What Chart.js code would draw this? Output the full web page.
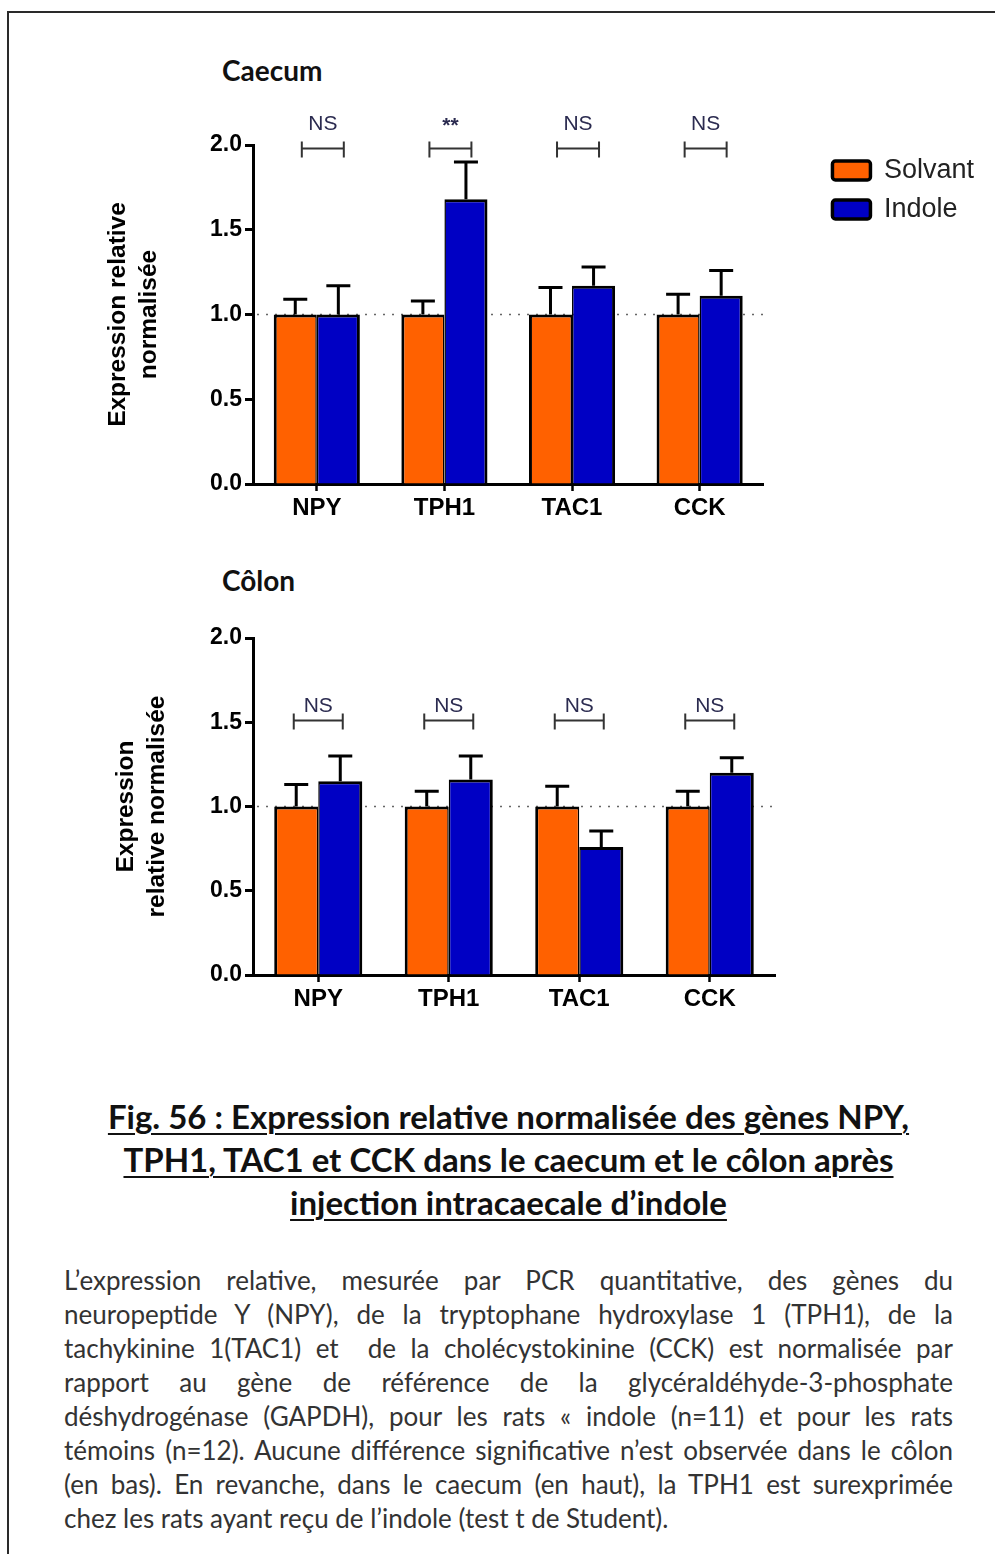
<!DOCTYPE html>
<html>
<head>
<meta charset="utf-8">
<script src="https://cdn.jsdelivr.net/npm/chart.js@4.4.1/dist/chart.umd.min.js"></script>
<style>
  body { margin: 0; width: 995px; height: 1554px; position: relative; overflow: hidden; background: #fff; }
  .frame { position: absolute; left: 7px; top: 11px; width: 1100px; height: 1700px; border: 2px solid #2a2a2a; }
  .panel { position: absolute; left: 222px; font-family: Lato, sans-serif; font-weight: 700; font-size: 28px; line-height: 30px; color: #111; }
  canvas { position: absolute; left: 0; }
  .fig { position: absolute; left: 0; width: 1017px; top: 1095px; text-align: center; font-family: Lato, sans-serif; font-weight: 700; font-size: 33px; line-height: 43px; color: #111; }
  .fig span { text-decoration: underline; text-decoration-thickness: 2px; text-underline-offset: 4px; }
  .body { position: absolute; left: 64px; width: 889px; top: 1263px; font-family: Lato, sans-serif; font-size: 26px; line-height: 34px; color: #333; }
  .body div { text-align: justify; text-align-last: justify; }
  .body div.last { text-align-last: left; }
</style>
</head>
<body>
<div class="frame"></div>
<div class="panel" style="top:55px">Caecum</div>
<div class="panel" style="top:565px">Côlon</div>
<canvas id="caecum" width="995" height="500" style="top:30px"></canvas>
<canvas id="colon" width="995" height="470" style="top:560px"></canvas>

<div class="fig">
  <span>Fig. 56 : Expression relative normalisée des gènes NPY,</span><br>
  <span>TPH1, TAC1 et CCK dans le caecum et le côlon après</span><br>
  <span>injection intracaecale d’indole</span>
</div>

<div class="body">
  <div>L’expression relative, mesurée par PCR quantitative, des gènes du</div>
  <div>neuropeptide Y (NPY), de la tryptophane hydroxylase 1 (TPH1), de la</div>
  <div>tachykinine 1(TAC1) et&nbsp; de la cholécystokinine (CCK) est normalisée par</div>
  <div>rapport au gène de référence de la glycéraldéhyde-3-phosphate</div>
  <div>déshydrogénase (GAPDH), pour les rats « indole (n=11) et pour les rats</div>
  <div>témoins (n=12). Aucune différence significative n’est observée dans le côlon</div>
  <div>(en bas). En revanche, dans le caecum (en haut), la TPH1 est surexprimée</div>
  <div class="last">chez les rats ayant reçu de l’indole (test t de Student).</div>
</div>

<script>
// données
const genes = ['NPY', 'TPH1', 'TAC1', 'CCK'];
const seriesNames = ['Solvant', 'Indole'];

const caecumSolvant = [1.00, 1.00, 1.00, 1.00];
const caecumSolvantErr = [1.09, 1.08, 1.16, 1.12];
const caecumIndole = [1.00, 1.68, 1.17, 1.11];
const caecumIndoleErr = [1.17, 1.90, 1.28, 1.26];
const caecumSig = ['NS', '**', 'NS', 'NS'];
const caecumSigLevel = 1.98;

const colonSolvant = [1.00, 1.00, 1.00, 1.00];
const colonSolvantErr = [1.13, 1.09, 1.12, 1.09];
const colonIndole = [1.15, 1.16, 0.76, 1.20];
const colonIndoleErr = [1.30, 1.30, 0.855, 1.29];
const colonSig = ['NS', 'NS', 'NS', 'NS'];
const colonSigLevel = 1.51;

const yMin = 0, yMax = 2.0, yStep = 0.5;
const refLine = 1.0;

const ORANGE = '#FF6100';
const BLUE = '#0000C4';
const FONT = "'Liberation Sans', Arial, sans-serif";

// barres d'erreur, ligne pointillée et crochets de significativité
const errorBars = {
    id: 'errorBars',
    beforeDatasetsDraw(chart) {
        const { ctx, chartArea, scales: { y } } = chart;
        const py = y.getPixelForValue(refLine);
        ctx.save();
        ctx.setLineDash([2, 7]);
        ctx.strokeStyle = '#666';
        ctx.lineWidth = 1.5;
        ctx.beginPath();
        ctx.moveTo(chartArea.left + 4, py);
        ctx.lineTo(chartArea.right, py);
        ctx.stroke();
        ctx.restore();
    },
    afterDatasetsDraw(chart, args, opts) {
        const { ctx, scales: { x, y } } = chart;
        ctx.save();
        ctx.strokeStyle = '#000';
        ctx.lineWidth = 3;
        chart.data.datasets.forEach((ds, i) => {
            chart.getDatasetMeta(i).data.forEach((bar, j) => {
                const top = y.getPixelForValue(ds.errorTop[j]);
                ctx.beginPath();
                ctx.moveTo(bar.x, bar.y);
                ctx.lineTo(bar.x, top);
                ctx.moveTo(bar.x - 12, top);
                ctx.lineTo(bar.x + 12, top);
                ctx.stroke();
            });
        });

        ctx.strokeStyle = '#333';
        ctx.lineWidth = 2;
        ctx.textAlign = 'center';
        ctx.textBaseline = 'middle';
        opts.labels.forEach((txt, j) => {
            const cx = x.getPixelForValue(j) + opts.shift;
            const by = y.getPixelForValue(opts.level);
            ctx.beginPath();
            ctx.moveTo(cx - opts.half, by);
            ctx.lineTo(cx + opts.half, by);
            ctx.moveTo(cx - opts.half, by - 7);
            ctx.lineTo(cx - opts.half, by + 9);
            ctx.moveTo(cx + opts.half, by - 7);
            ctx.lineTo(cx + opts.half, by + 9);
            ctx.stroke();
            ctx.fillStyle = '#2b2b50';
            ctx.font = (txt === '**' ? 'bold ' : '') + '21px ' + FONT;
            ctx.fillText(txt, cx, by - opts.textGap + (txt === '**' ? 2 : 0));
        });
        ctx.restore();
    }
};

function makeChart(id, solvant, solvantErr, indole, indoleErr, sig, cfg) {
    const ctx = document.getElementById(id).getContext('2d');
    const scales = {
        x: {
            type: 'category',
            grid: { offset: false, drawOnChartArea: false, tickLength: 7, tickWidth: 2.5, tickColor: '#000' },
            border: { color: '#000', width: 3 },
            ticks: { color: '#000', padding: 3, font: { family: FONT, size: 24, weight: 'bold' } },
            afterFit(s) { s.height = 40; }
        },
        y: {
            min: yMin,
            max: yMax,
            grid: { drawOnChartArea: false, tickLength: 8, tickWidth: 3, tickColor: '#000' },
            border: { color: '#000', width: 3 },
            ticks: {
                stepSize: yStep,
                color: '#000',
                padding: 3,
                font: { family: FONT, size: 23, weight: 'bold' },
                callback: v => v.toFixed(1)
            },
            title: {
                display: true,
                text: cfg.yTitle,
                color: '#000',
                font: { family: FONT, size: 24.5, weight: 'bold', lineHeight: 1.25 },
                padding: { top: cfg.titlePad, bottom: 0 }
            },
            afterFit(s) { s.width = 253; }
        }
    };
    if (cfg.legend) {
        scales.gap = {
            type: 'linear',
            position: 'right',
            grid: { display: false },
            border: { display: false },
            ticks: { display: false },
            afterFit(s) { s.width = cfg.gap; }
        };
    }

    return new Chart(ctx, {
        type: 'bar',
        data: {
            labels: genes,
            datasets: [
                {
                    label: seriesNames[0],
                    data: solvant,
                    errorTop: solvantErr,
                    backgroundColor: ORANGE,
                    borderColor: '#000',
                    borderWidth: { top: 3, left: 3, right: 1.5, bottom: 0 },
                    categoryPercentage: 0.675,
                    barPercentage: 1.0
                },
                {
                    label: seriesNames[1],
                    data: indole,
                    errorTop: indoleErr,
                    backgroundColor: BLUE,
                    borderColor: '#000',
                    borderWidth: { top: 3, left: 1.5, right: 3, bottom: 0 },
                    categoryPercentage: 0.675,
                    barPercentage: 1.0
                }
            ]
        },
        options: {
            responsive: false,
            animation: false,
            layout: { padding: cfg.padding },
            scales: scales,
            plugins: {
                tooltip: { enabled: false },
                legend: {
                    display: cfg.legend,
                    position: 'right',
                    align: 'start',
                    fullSize: false,
                    labels: {
                        boxWidth: 38,
                        boxHeight: 19,
                        padding: 12,
                        color: '#222',
                        useBorderRadius: true,
                        borderRadius: 3,
                        font: { family: FONT, size: 27 },
                        generateLabels(chart) {
                            return Chart.defaults.plugins.legend.labels.generateLabels(chart)
                                .map(l => Object.assign(l, { lineWidth: 3.5, strokeStyle: '#000' }));
                        }
                    }
                },
                errorBars: {
                    labels: sig,
                    level: cfg.sigLevel,
                    shift: cfg.shift,
                    half: cfg.half,
                    textGap: cfg.textGap
                }
            }
        },
        plugins: [errorBars]
    });
}

makeChart('caecum', caecumSolvant, caecumSolvantErr, caecumIndole, caecumIndoleErr, caecumSig, {
    yTitle: ['Expression relative', 'normalisée'],
    titlePad: 103,
    legend: true,
    gap: 57,
    padding: { top: 115, left: 0, right: 11, bottom: 6 },
    sigLevel: caecumSigLevel,
    shift: 6,
    half: 21,
    textGap: 24
});

makeChart('colon', colonSolvant, colonSolvantErr, colonIndole, colonIndoleErr, colonSig, {
    yTitle: ['Expression', 'relative normalisée'],
    titlePad: 111,
    legend: false,
    padding: { top: 78, left: 0, right: 220, bottom: 15 },
    sigLevel: colonSigLevel,
    shift: 0,
    half: 24.5,
    textGap: 14
});
</script>
</body>
</html>
